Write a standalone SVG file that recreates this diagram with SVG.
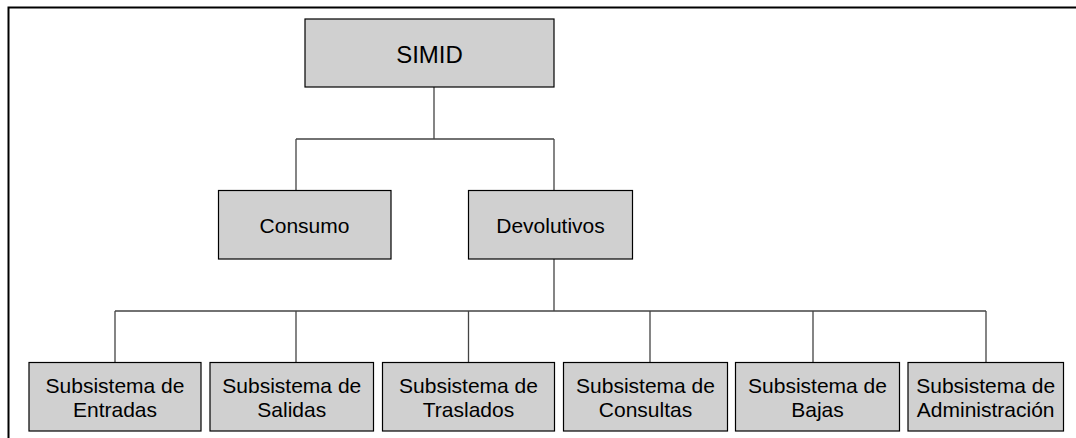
<svg xmlns="http://www.w3.org/2000/svg" width="1076" height="438" viewBox="0 0 1076 438">
<style>
.frame{fill:none;stroke:#000;stroke-width:2}
.box{fill:#d0d0d0;stroke:#000;stroke-width:1.2}
.ln{fill:none;stroke:#444;stroke-width:1.3}
text{font-family:"Liberation Sans",Arial,sans-serif;fill:#000;text-anchor:middle}
.t24{font-size:24px}
.t21{font-size:21px}
</style>
<rect width="1076" height="438" fill="#fff"/>
<rect class="frame" x="8.5" y="7.5" width="1100" height="500"/>
<g id="connectors">
<path class="ln" d="M434,87 V139 M296,139 H554 M296,139 V190.5 M554,139 V190.5"/>
<path class="ln" d="M554,259 V311 M115,311 H986 M115,311 V362.5 M296,311 V362.5 M468.5,311 V362.5 M650,311 V362.5 M813,311 V362.5 M986,311 V362.5"/>
</g>
<g id="simid"><rect class="box" x="305" y="19" width="249" height="68"/><text class="t24" x="429.5" y="63">SIMID</text></g>
<g id="consumo"><rect class="box" x="218.5" y="190.5" width="172.5" height="68.5"/><text class="t21" x="304.5" y="233">Consumo</text></g>
<g id="devolutivos"><rect class="box" x="468.5" y="190.5" width="164" height="68.5"/><text class="t21" x="550.5" y="233">Devolutivos</text></g>
<g id="entradas"><rect class="box" x="29" y="362.5" width="172" height="68.5"/><text class="t21" x="115" y="392.5">Subsistema de</text><text class="t21" x="115" y="416.5">Entradas</text></g>
<g id="salidas"><rect class="box" x="210" y="362.5" width="163.5" height="68.5"/><text class="t21" x="291.8" y="392.5">Subsistema de</text><text class="t21" x="291.8" y="416.5">Salidas</text></g>
<g id="traslados"><rect class="box" x="382.5" y="362.5" width="172" height="68.5"/><text class="t21" x="468.5" y="392.5">Subsistema de</text><text class="t21" x="468.5" y="416.5">Traslados</text></g>
<g id="consultas"><rect class="box" x="563.5" y="362.5" width="164" height="68.5"/><text class="t21" x="645.5" y="392.5">Subsistema de</text><text class="t21" x="645.5" y="416.5">Consultas</text></g>
<g id="bajas"><rect class="box" x="735.5" y="362.5" width="164" height="68.5"/><text class="t21" x="817.5" y="392.5">Subsistema de</text><text class="t21" x="817.5" y="416.5">Bajas</text></g>
<g id="administracion"><rect class="box" x="908" y="362.5" width="155.5" height="68.5"/><text class="t21" x="985.7" y="392.5">Subsistema de</text><text class="t21" x="985.7" y="416.5">Administración</text></g>
</svg>
